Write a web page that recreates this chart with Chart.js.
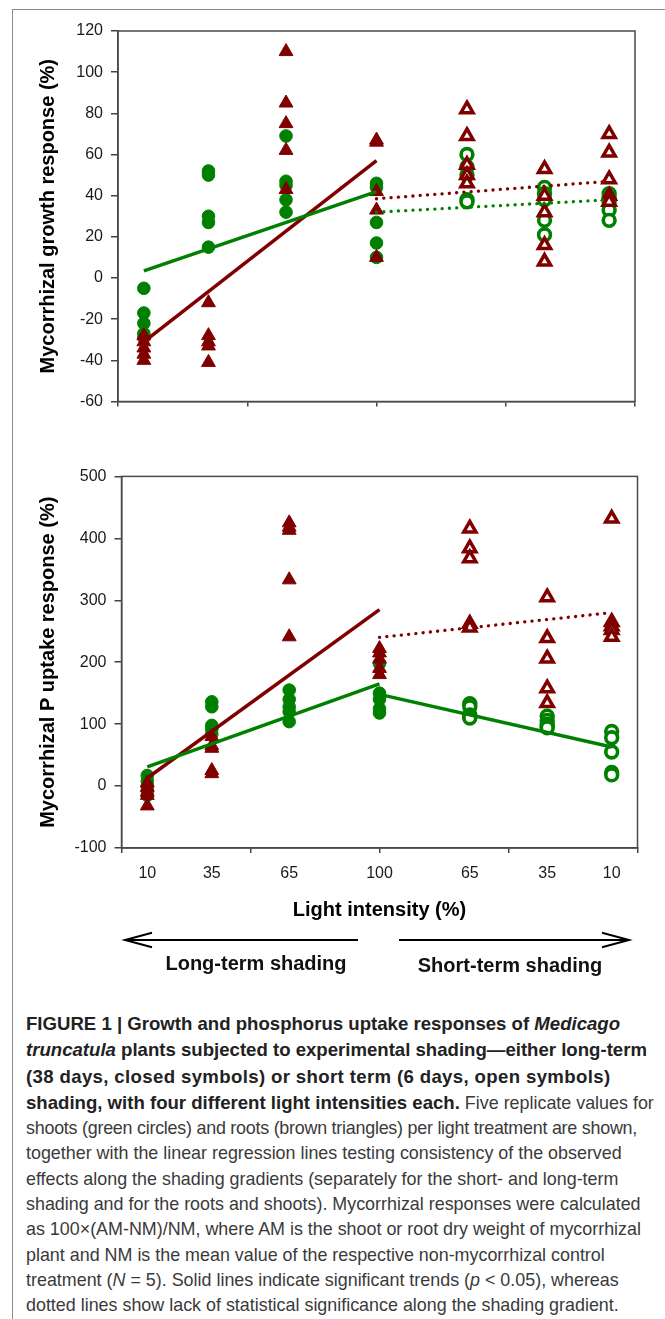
<!DOCTYPE html>
<html>
<head>
<meta charset="utf-8">
<title>Mycorrhizal responses to shading</title>
<script src="https://cdn.jsdelivr.net/npm/chart.js@4.4.0/dist/chart.umd.min.js"></script>
<style>
  body { margin: 0; background: #fff; font-family: "Liberation Sans", Arial, sans-serif; }
  #page { position: relative; width: 665px; height: 1319px; overflow: hidden; }
  #frame { position: absolute; left: 12px; top: 9px; width: 700px; height: 1400px;
           border-left: 1.5px solid #8c8c8c; border-top: 1.5px solid #8c8c8c; }
  canvas { position: absolute; left: 0; }
  #growthChart { top: 0; }
  #uptakeChart { top: 440px; }
  #arrows { position: absolute; left: 0; top: 920px; }
  .shade { position: absolute; font-weight: bold; font-size: 20px; line-height: 20px;
           color: #111; white-space: nowrap; transform: translate(-50%, -50%); }
  #caption { position: absolute; left: 26px; top: 1011px; font-size: 17.9px; line-height: 25.3px;
             color: #3a3a3a; white-space: nowrap; }
  #caption b { color: #222; font-size: 18.6px; }
</style>
</head>
<body>
<div id="page">
  <div id="frame"></div>
  <canvas id="growthChart" width="665" height="430"></canvas>
  <canvas id="uptakeChart" width="665" height="482"></canvas>

  <svg id="arrows" width="665" height="40">
    <g stroke="#000" stroke-width="2" fill="none">
      <line x1="125" y1="20" x2="358" y2="20"/>
      <polyline points="152,12.7 125,20 152,27.3"/>
      <line x1="399" y1="20" x2="629" y2="20"/>
      <polyline points="602,12.7 629,20 602,27.3"/>
    </g>
  </svg>
  <div class="shade" style="left:256px; top:962.5px;">Long-term shading</div>
  <div class="shade" style="left:510px; top:964.5px;">Short-term shading</div>

  <div id="caption">
<b>FIGURE 1 | Growth and phosphorus uptake responses of <i>Medicago</i></b><br>
<b><i>truncatula</i> plants subjected to experimental shading—either long-term</b><br>
<b style="letter-spacing:0.36px">(38 days, closed symbols) or short term (6 days, open symbols)</b><br>
<b>shading, with four different light intensities each.</b> Five replicate values for<br>
<span style="letter-spacing:-0.24px">shoots (green circles) and roots (brown triangles) per light treatment are shown,</span><br>
together with the linear regression lines testing consistency of the observed<br>
effects along the shading gradients (separately for the short- and long-term<br>
shading and for the roots and shoots). Mycorrhizal responses were calculated<br>
as 100×(AM-NM)/NM, where AM is the shoot or root dry weight of mycorrhizal<br>
plant and NM is the mean value of the respective non-mycorrhizal control<br>
treatment (<i>N</i> = 5). Solid lines indicate significant trends (<i>p</i> &lt; 0.05), whereas<br>
dotted lines show lack of statistical significance along the shading gradient.
  </div>
</div>

<script>
// x positions on the 0-200 axis (left half: long-term, right half: short-term)
const xLong = [10, 35, 65, 100];
const xShort = [135, 165, 190];
const xTickPos = [10, 35, 65, 100, 135, 165, 190];
const xTickLabels = ['10', '35', '65', '100', '65', '35', '10'];
const fitXLong = [10, 100];
const fitXShort = [100, 190];

// Top panel: mycorrhizal growth response (%)
const growthShootLong = [
    [-5, -17, -22, -27, -29],
    [52, 50, 30, 27, 15],
    [69, 47, 45, 38, 32],
    [46, 44, 27, 17, 10]
];
const growthRootLong = [
    [-28, -31, -34, -37, -40],
    [-12, -28, -31, -33, -41],
    [110, 85, 75, 62, 43],
    [67, 66, 42, 33, 10]
];
const growthShootShort = [
    [60, 54, 50, 38, 37],
    [44, 41, 38, 28, 21],
    [41, 39, 37, 33, 28]
];
const growthRootShort = [
    [82, 69, 55, 50, 46],
    [53, 40, 32, 16, 8],
    [70, 61, 48, 40, 37]
];
const growthShootLongFit = [3.5, 42];
const growthRootLongFit = [-31, 57];
const growthShootShortFit = [32, 38];
const growthRootShortFit = [38.5, 47];

// Bottom panel: mycorrhizal P uptake response (%)
const uptakeShootLong = [
    [17, 8, 0, -8, -15],
    [136, 128, 98, 92, 84],
    [155, 140, 128, 120, 104],
    [198, 150, 140, 125, 118]
];
const uptakeRootLong = [
    [5, -2, -10, -15, -32],
    [80, 65, 61, 25, 20],
    [425, 418, 413, 333, 241],
    [222, 215, 205, 190, 180]
];
const uptakeShootShort = [
    [133, 128, 115, 112, 110],
    [113, 106, 100, 96, 94],
    [88, 78, 55, 22, 18]
];
const uptakeRootShort = [
    [416, 384, 368, 262, 256],
    [305, 239, 206, 158, 134],
    [432, 265, 258, 252, 241]
];
const uptakeShootLongFit = [31, 165];
const uptakeRootLongFit = [13, 285];
const uptakeShootShortFit = [148, 63];
const uptakeRootShortFit = [240, 280];

const GREEN = '#008000';
const MAROON = '#800000';
const FONT = '"Liberation Sans", Arial, sans-serif';

function toPoints(xs, groups) {
    const pts = [];
    groups.forEach((vals, i) => vals.forEach(v => pts.push({ x: xs[i], y: v })));
    return pts;
}

function fitLine(xs, ys, color, dotted) {
    return {
        data: xs.map((x, i) => ({ x: x, y: ys[i] })),
        showLine: true,
        pointRadius: 0,
        borderColor: color,
        borderWidth: dotted ? 3.3 : 3.5,
        borderDash: dotted ? [0.1, 7.2] : [],
        borderCapStyle: dotted ? 'round' : 'butt',
        order: 0
    };
}

function makeDatasets(shootLong, rootLong, shootShort, rootShort, fits, dotted) {
    return [
        fitLine(fitXLong, fits[0], GREEN, dotted[0]),
        fitLine(fitXLong, fits[1], MAROON, dotted[1]),
        fitLine(fitXShort, fits[2], GREEN, dotted[2]),
        fitLine(fitXShort, fits[3], MAROON, dotted[3]),
        { data: toPoints(xLong, rootLong), pointStyle: 'triangle', pointRadius: 8,
          backgroundColor: MAROON, borderColor: MAROON, borderWidth: 1, order: 1 },
        { data: toPoints(xShort, rootShort), pointStyle: 'triangle', pointRadius: 7,
          backgroundColor: '#fff', borderColor: MAROON, borderWidth: 3.5, order: 1 },
        { data: toPoints(xLong, shootLong), pointStyle: 'circle', pointRadius: 6.3,
          backgroundColor: GREEN, borderColor: GREEN, borderWidth: 1, order: 2 },
        { data: toPoints(xShort, shootShort), pointStyle: 'circle', pointRadius: 5.9,
          backgroundColor: '#fff', borderColor: GREEN, borderWidth: 3.6, order: 2 }
    ];
}

// box around the plot area (top and right edges)
const plotBox = {
    id: 'plotBox',
    beforeDatasetsDraw(chart) {
        const { ctx, chartArea: a } = chart;
        ctx.save();
        ctx.strokeStyle = '#4a4a4a';
        ctx.lineWidth = 1.5;
        ctx.strokeRect(a.left, a.top, a.right - a.left, a.bottom - a.top);
        ctx.restore();
    }
};

function makeChart(canvasId, cfg) {
    const scales = {
        x: {
            type: 'linear', min: 0, max: 200, weight: 0,
            ticks: { display: false, stepSize: 50 },
            grid: { drawOnChartArea: false, tickLength: 5, color: '#444', lineWidth: 1.5 },
            border: { color: '#444', width: 1.5 },
            afterFit: s => { s.height = cfg.xHeight; }
        },
        y: {
            min: cfg.yMin, max: cfg.yMax,
            ticks: { stepSize: cfg.yStep, font: { family: FONT, size: 16 }, color: '#1a1a1a', padding: 8 },
            grid: { drawOnChartArea: false, tickLength: 7, color: '#444', lineWidth: 1.5 },
            border: { color: '#444', width: 1.5 },
            title: { display: true, text: cfg.yTitle, color: '#000',
                     font: { family: FONT, size: 20, weight: 'bold' }, padding: { top: 36, bottom: 0 } },
            afterFit: s => { s.width = cfg.yWidth; }
        }
    };
    if (cfg.labelAxis) {
        scales.xl = {
            type: 'linear', position: 'bottom', min: 0, max: 200, weight: 1,
            afterBuildTicks: axis => { axis.ticks = xTickPos.map(v => ({ value: v })); },
            ticks: { autoSkip: false, maxRotation: 0, padding: 10.4, color: '#1a1a1a',
                     font: { family: FONT, size: 16 },
                     callback: (value, index) => xTickLabels[index] },
            grid: { display: false, drawTicks: false },
            border: { display: false },
            title: { display: true, text: 'Light intensity (%)', color: '#000',
                     font: { family: FONT, size: 20, weight: 'bold' }, padding: 0 },
            afterFit: s => { s.height = cfg.labelHeight; }
        };
    }
    return new Chart(document.getElementById(canvasId), {
        type: 'scatter',
        data: { datasets: cfg.datasets },
        options: {
            responsive: false,
            animation: false,
            events: [],
            layout: { padding: { left: 0, right: cfg.padRight, top: cfg.padTop, bottom: 0 } },
            plugins: { legend: { display: false }, tooltip: { enabled: false } },
            scales: scales
        },
        plugins: [plotBox]
    });
}

makeChart('growthChart', {
    datasets: makeDatasets(growthShootLong, growthRootLong, growthShootShort, growthRootShort,
        [growthShootLongFit, growthRootLongFit, growthShootShortFit, growthRootShortFit],
        [false, false, true, true]),
    yMin: -60, yMax: 120, yStep: 20,
    yTitle: 'Mycorrhizal growth response (%)',
    yWidth: 118, padRight: 30, padTop: 31, xHeight: 28.5
});

makeChart('uptakeChart', {
    datasets: makeDatasets(uptakeShootLong, uptakeRootLong, uptakeShootShort, uptakeRootShort,
        [uptakeShootLongFit, uptakeRootLongFit, uptakeShootShortFit, uptakeRootShortFit],
        [false, false, false, true]),
    yMin: -100, yMax: 500, yStep: 100,
    yTitle: 'Mycorrhizal P uptake response (%)',
    yWidth: 121.5, padRight: 27.5, padTop: 36.4, xHeight: 6,
    labelAxis: true, labelHeight: 68
});
</script>
</body>
</html>
